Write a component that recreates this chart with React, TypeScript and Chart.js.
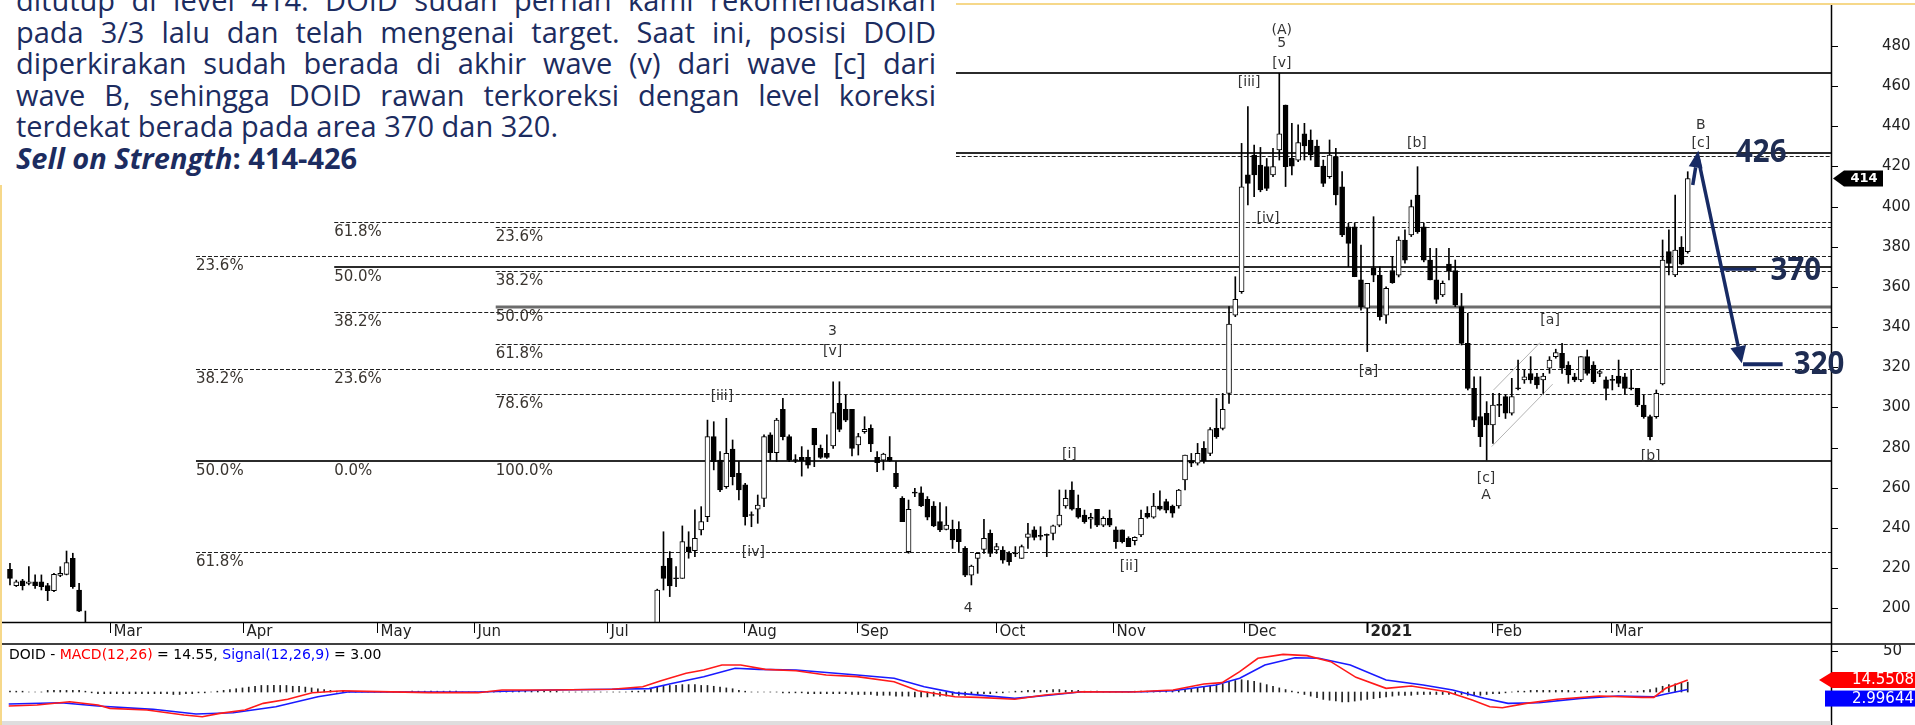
import React, { useEffect, useRef } from 'react';
import { Chart, registerables } from 'chart.js';

Chart.register(...registerables);

// ---------------- DATA ----------------
// trading-day index of each candle; [open, high, low, close]
const febStart = 0;
const febCandles: number[][] = [
  [219.4, 222.4, 211.6, 214.9], [211.3, 214.0, 210.8, 213.2], [213.7, 214.4, 209.1, 211.3],
  [212.4, 220.7, 211.6, 213.2], [213.2, 216.6, 209.9, 211.3], [213.2, 216.6, 209.1, 210.8],
  [211.3, 212.4, 203.8, 208.8], [208.8, 217.4, 208.3, 216.9], [216.4, 220.7, 215.7, 217.4],
  [216.9, 228.5, 216.6, 222.7], [224.9, 227.4, 209.9, 210.8], [209.1, 212.4, 198.3, 198.6],
  [192.0, 198.6, 176.0, 180.0],
];
const mainStart = 103;
const mainCandles: number[][] = [
  [190, 209.5, 188, 209.1], [221.0, 238.1, 209.1, 214.9], [224.9, 228.2, 205.8, 211.1], [215.2, 220.7, 210.7, 214.7],
  [214.9, 241.0, 214.9, 233.2], [230.6, 238.1, 224.9, 228.2], [228.7, 249.0, 225.7, 234.8], [239.0, 250.6, 236.5, 243.1],
  [245.6, 293.7, 243.1, 285.5], [285.5, 292.9, 268.9, 273.0], [273.8, 278.0, 258.0, 258.9], [260.6, 294.6, 259.7, 277.2],
  [279.3, 283.8, 261.4, 265.5], [267.2, 273.0, 253.9, 258.9], [261.4, 262.2, 241.4, 245.6], [246.6, 248.0, 240.6, 246.2],
  [249.3, 256.4, 242.3, 251.4], [254.7, 286.3, 250.6, 285.5], [286.3, 287.4, 273.8, 277.5], [277.5, 294.6, 273.0, 293.7],
  [299.1, 304.5, 283.8, 285.5], [285.5, 286.3, 273.0, 273.8], [274.0, 276.5, 272.5, 273.6], [275.1, 280.5, 265.8, 273.5],
  [275.1, 278.8, 269.7, 271.3], [289.6, 289.6, 270.5, 281.3], [279.6, 281.3, 274.6, 275.1], [277.2, 286.3, 274.6, 275.1],
  [280.8, 312.8, 279.6, 297.4], [302.0, 312.8, 287.9, 289.1], [299.1, 306.2, 292.9, 293.7], [299.1, 299.1, 275.8, 279.6],
  [281.3, 287.1, 276.3, 285.5], [287.9, 295.4, 287.1, 289.1], [289.6, 291.3, 278.0, 281.8], [275.1, 278.0, 268.0, 272.5],
  [273.8, 277.2, 268.9, 276.8], [275.1, 285.5, 273.0, 273.5], [267.2, 273.0, 259.7, 260.6], [254.7, 255.6, 243.1, 243.1],
  [228.2, 253.9, 227.4, 249.3], [257.7, 259.7, 255.6, 257.3], [257.5, 260.5, 250.6, 250.9], [254.2, 255.6, 244.0, 245.3],
  [250.9, 253.1, 240.6, 241.0], [243.1, 252.6, 238.1, 239.0], [239.3, 250.6, 239.0, 241.4], [239.3, 243.9, 229.8, 234.0],
  [239.3, 243.1, 228.2, 233.2], [229.8, 230.7, 215.7, 216.5], [216.5, 221.5, 211.6, 221.0], [224.8, 227.3, 217.4, 227.3],
  [229.3, 244.3, 227.3, 234.8], [237.3, 239.0, 225.7, 227.3], [229.0, 232.3, 227.3, 230.7], [229.0, 230.7, 222.4, 224.0],
  [227.3, 228.2, 221.5, 223.2], [227.5, 230.7, 225.7, 227.1], [224.8, 231.5, 224.8, 230.7], [235.3, 242.3, 229.8, 237.0],
  [239.0, 240.6, 234.0, 235.3], [236.2, 240.6, 234.0, 235.8], [236.7, 237.0, 225.7, 236.3], [237.3, 241.4, 234.0, 241.0],
  [241.4, 258.9, 240.6, 246.4], [250.9, 258.9, 249.8, 254.7], [258.9, 263.0, 248.9, 249.3], [249.8, 256.4, 244.8, 245.3],
  [246.4, 248.9, 242.3, 243.1], [244.3, 247.3, 239.8, 245.3], [249.3, 249.3, 240.6, 241.4], [241.4, 245.6, 240.6, 244.8],
  [244.8, 248.9, 240.6, 241.4], [239.0, 240.6, 229.8, 233.2], [239.0, 239.0, 232.5, 233.2], [234.8, 235.6, 230.7, 230.7],
  [233.6, 235.6, 231.5, 235.3], [236.5, 248.9, 235.6, 244.8], [247.3, 250.6, 244.8, 245.3], [245.3, 257.2, 244.8, 250.9],
  [250.9, 258.5, 248.9, 249.3], [253.1, 254.3, 247.5, 248.9], [250.9, 251.4, 245.3, 247.3], [250.9, 259.2, 249.8, 258.9],
  [263.9, 276.3, 258.9, 276.3], [273.5, 277.1, 270.5, 272.2], [272.2, 282.1, 271.3, 277.1], [279.6, 283.0, 272.2, 273.5],
  [277.1, 290.0, 276.0, 289.0], [289.6, 304.5, 284.6, 285.5], [289.6, 307.0, 288.8, 299.1], [307.0, 350.2, 302.0, 341.5],
  [346.0, 365.1, 345.2, 353.8], [357.6, 431.5, 356.8, 409.9], [415.8, 449.8, 400.8, 411.6], [425.7, 430.7, 405.0, 415.8],
  [420.7, 429.5, 407.4, 408.3], [419.9, 424.0, 408.0, 409.1], [415.8, 429.0, 414.9, 419.9], [428.2, 466.4, 423.2, 436.2],
  [450.6, 450.6, 410.0, 419.9], [424.1, 441.5, 415.8, 420.2], [423.2, 440.7, 422.4, 431.9], [436.2, 441.5, 423.2, 430.2],
  [433.2, 438.2, 423.2, 425.7], [430.2, 433.2, 419.9, 419.9], [420.2, 423.2, 410.0, 411.6], [414.9, 433.2, 414.1, 425.7],
  [424.9, 429.0, 400.8, 405.8], [409.9, 417.4, 385.1, 385.9], [390.0, 391.7, 370.1, 381.7], [390.0, 391.7, 365.1, 365.1],
  [363.5, 380.9, 348.5, 350.2], [349.4, 361.8, 327.8, 361.8], [369.3, 395.0, 362.6, 365.9], [365.9, 370.1, 343.5, 345.2],
  [346.0, 360.1, 341.9, 359.3], [368.1, 375.1, 361.8, 362.2], [365.9, 385.0, 365.0, 383.4], [383.4, 388.4, 371.8, 373.4],
  [385.9, 403.3, 385.1, 400.0], [405.8, 419.9, 386.7, 387.5], [390.0, 391.7, 372.5, 373.4], [373.4, 379.2, 363.5, 363.5],
  [363.5, 379.2, 351.8, 353.8], [356.0, 363.0, 355.2, 361.8], [371.4, 379.2, 363.5, 368.1], [368.1, 373.4, 350.2, 351.0],
  [350.2, 356.8, 331.1, 331.9], [331.9, 346.9, 308.7, 309.5], [309.5, 315.3, 290.4, 293.7], [295.4, 315.3, 280.5, 285.4],
  [297.1, 302.9, 273.8, 291.3], [291.3, 307.0, 282.1, 301.2], [301.4, 307.0, 295.4, 301.0], [305.4, 306.5, 294.5, 297.1],
  [297.1, 314.5, 296.2, 305.4], [309.7, 323.6, 308.7, 309.3], [313.7, 318.6, 312.0, 315.3], [316.9, 325.3, 312.0, 313.7],
  [315.3, 317.0, 309.5, 311.2], [313.7, 317.0, 307.0, 315.6], [319.5, 325.3, 317.0, 323.6], [325.3, 329.0, 324.5, 327.3],
  [326.9, 331.9, 317.0, 319.5], [321.1, 322.8, 312.0, 316.2], [315.3, 317.0, 312.8, 313.7], [313.7, 325.3, 312.8, 325.3],
  [325.3, 328.6, 316.1, 317.0], [321.1, 322.8, 311.9, 312.8], [317.0, 318.6, 315.3, 317.8], [313.7, 315.3, 303.7, 309.5],
  [313.9, 316.0, 308.7, 313.5], [315.6, 323.6, 310.3, 312.0], [315.3, 317.0, 306.5, 309.5], [309.7, 318.6, 308.7, 309.3],
  [309.5, 309.5, 300.4, 301.2], [301.2, 306.2, 294.6, 295.4], [295.4, 296.2, 283.8, 285.4], [295.4, 308.7, 294.6, 307.0],
  [311.7, 383.4, 311.2, 373.4], [377.6, 388.4, 366.0, 371.7], [366.0, 405.8, 365.1, 378.4], [379.7, 385.1, 371.0, 371.4],
  [377.6, 417.4, 376.8, 414.0],
];
const lastClose = 414;

const priceTicks = [200, 220, 240, 260, 280, 300, 320, 340, 360, 380, 400, 420, 440, 460, 480];
const monthTickIdx = [15.9, 37.1, 58.4, 73.8, 95.0, 116.8, 134.8, 156.9, 175.5, 196.4, 216.0, 235.9, 254.8];
const monthLabels = ['Mar', 'Apr', 'May', 'Jun', 'Jul', 'Aug', 'Sep', 'Oct', 'Nov', 'Dec', '2021', 'Feb', 'Mar'];

// Fibonacci / horizontal levels
const fibLevels = [466.7, 426.5, 425.0, 392.5, 390.0, 375.6, 370.1, 368.1, 350.2, 347.4, 331.6, 319.0, 306.7, 273.5, 227.9];
const fibStarts = [150.5, 150.5, 150.5, 51.6, 77.3, 29.6, 51.6, 77.3, 77.3, 51.6, 77.3, 29.6, 77.3, 29.6, 29.6];
const fibKinds = ['solid', 'solid', 'dash', 'dash', 'dash', 'dash', 'solid', 'dash', 'grey', 'dash', 'dash', 'dash', 'dash', 'solid', 'dash'];
const fibLabelText = ['61.8%', '23.6%', '23.6%', '50.0%', '38.2%', '50.0%', '38.2%', '61.8%', '38.2%', '23.6%', '78.6%', '50.0%', '0.0%', '100.0%', '61.8%'];
const fibLabelLevel = [392.5, 390.0, 375.6, 370.1, 368.1, 350.2, 347.4, 331.6, 319.0, 319.0, 306.7, 273.5, 273.5, 273.5, 227.9];
const fibLabelStart = [51.6, 77.3, 29.6, 51.6, 77.3, 77.3, 51.6, 77.3, 29.6, 51.6, 77.3, 29.6, 51.6, 77.3, 29.6];

// Elliott wave labels
const waveText = ['(A)', '5', '[v]', '[iii]', '[iv]', '[b]', 'B', '[c]', '3', '[v]', '[iii]', '[iv]', '4', '[i]', '[ii]', '[a]', '[a]', '[c]', 'A', '[b]'];
const waveIdx = [202.4, 202.4, 202.4, 197.2, 200.2, 223.9, 269.1, 269.1, 130.9, 130.9, 113.3, 118.3, 152.5, 168.6, 178.1, 216.2, 245.1, 234.9, 234.9, 261.1];
const waveVal = [488, 481.5, 471.5, 462, 394.3, 431.7, 440.7, 431.7, 337.7, 327.8, 305.7, 227.7, 200.0, 276.8, 220.7, 318.1, 343.5, 264.7, 256.4, 275.8];

// channel lines [idx, value]
const channelUpper = [[236.1, 308.7], [243.5, 332.3]];
const channelLower = [[235.8, 280.5], [245.5, 311.6]];

// target annotations [idx, value]
const arrowUp = [[267.8, 410.8], [268.7, 427.9]];
const arrowDown = [[268.6, 424.9], [275.6, 322.0]];
const target320Line = [[275.8, 321.5], [282.1, 321.5]];
const target370Line = [[272.4, 368.8], [277.9, 368.8]];
const targetText = ['426', '370', '320'];
const targetIdx = [278.7, 284.2, 287.9];
const targetVal = [427.2, 368.4, 321.6];

// MACD (12,26) and signal (9): [idx, value]
const macdLine = [[-0.2, -17.1], [4.3, -15.9], [9.5, -11.8], [14.0, -15.9], [15.9, -19.9], [21.8, -22], [27.7, -28], [30.6, -30.1], [33.4, -26], [37.4, -22], [40.3, -13.8], [44.2, -8.9], [48.1, -0.8], [53.0, 1.6], [56.8, 0.8], [66.7, -0.8], [74.5, -0.8], [78.3, 2.4], [86.1, 2.4], [95.8, 3.3], [100.7, 6.5], [103.6, 13.8], [107.6, 22.8], [110.4, 26.8], [113.3, 32.9], [116.3, 32.9], [120.2, 27.6], [125.1, 26], [129.9, 20.7], [134.8, 18.7], [140.7, 12.6], [144.5, 1.6], [150.4, -5.7], [154.1, -6.5], [159.9, -8.9], [164.7, -3.7], [170.6, 0.4], [178.4, 0], [185.1, 2.4], [190.0, 9.8], [192.9, 11.4], [195.7, 24.8], [198.6, 41.1], [202.6, 45.9], [206.4, 44.3], [210.2, 37], [214.2, 17.9], [219.0, 4.5], [223.0, 7.3], [228.7, 0.4], [232.7, -9.8], [235.5, -17.9], [237.5, -19.1], [241.3, -13.8], [246.2, -8.9], [252.9, -4.9], [259.7, -6.5], [261.6, -6.5], [263.5, 4.5], [267, 14.55]];
const signalLine = [[-0.2, -14.6], [8.1, -13], [14.0, -17.1], [22.8, -21.1], [29.6, -26.8], [35.5, -25.2], [42.3, -17.9], [49.0, -5.7], [54.0, 0.4], [66.7, 0], [74.5, 0], [86.1, 2.4], [95.8, 3.3], [101.7, 4.1], [105.5, 10.6], [110.4, 18.7], [115.4, 28.9], [119.2, 27.6], [125.1, 26.8], [134.8, 20.7], [140.7, 16.7], [145.5, 6.5], [150.4, -1.0], [159.9, -7.7], [165.7, -3.7], [170.6, 0.4], [180.3, 0.4], [185.1, 1.6], [191.9, 8.5], [195.7, 16.7], [199.7, 32.9], [204.5, 41.8], [208.3, 41.1], [213.3, 32.9], [219.0, 14.6], [224.9, 8.5], [229.6, 2.4], [234.6, -7.7], [238.4, -13.8], [243.3, -13], [250.0, -7.7], [255.9, -4.9], [261.6, -5.7], [263.5, -2.4], [266.6, 2.4], [267, 3.0]];
const histStart = 0;
const histValues = [
  1, 1, 1, 0, 0, 0, 2, 2, 2, 2,
  2, 2, 1, -1, -2, -2, -2, -2, -2, -2,
  -2, -2, -2, -2, -2, -2, -3, -3, -2, -2,
  -1, -1, 0, 1, 2, 3, 4, 5, 6, 7,
  8, 8, 8, 8, 8, 7, 7, 6, 5, 4,
  3, 2, 1, 1, 1, 0, 0, 0, 0, 0,
  0, 0, 0, 0, 1, 1, 1, 1, 1, 1,
  1, 1, 0, 0, 0, 0, 0, 0, 1, 1,
  1, 1, 1, 1, 1, 1, 1, 1, 0, 0,
  0, 0, 0, 0, 0, 0, 0, 0, 0, 1,
  1, 2, 4, 6, 7, 8, 8, 9, 9, 9,
  8, 8, 7, 6, 5, 4, 2, 1, 0, 0,
  0, 0, 0, -1, -1, -1, -1, -2, -2, -2,
  -2, -2, -2, -2, -3, -3, -3, -3, -4, -4,
  -4, -5, -5, -5, -6, -6, -6, -5, -5, -5,
  -4, -4, -4, -3, -3, -2, -2, -1, -1, 0,
  1, 1, 2, 2, 2, 2, 3, 3, 2, 2,
  2, 1, 1, 1, 0, 0, 0, 0, 0, 1,
  1, 1, 1, 1, 1, 2, 2, 3, 4, 5,
  6, 7, 8, 10, 12, 14, 15, 14, 13, 11,
  9, 7, 5, 3, 1, -1, -3, -5, -7, -9,
  -10, -11, -12, -12, -11, -10, -9, -8, -7, -6,
  -5, -4, -4, -4, -3, -3, -3, -3, -3, -3,
  -3, -3, -4, -4, -4, -3, -2, -2, -1, 0,
  1, 1, 2, 2, 2, 2, 2, 2, 2, 1,
  1, 1, 1, 1, 1, 1, 1, 1, 0, 1,
  2, 3, 5, 7, 9, 10, 11, 12,
];
const macdLast = 14.5508;
const signalLast = 2.99644;

const paraLines = [
  'ditutup di level 414. DOID sudah pernah kami rekomendasikan',
  'pada 3/3 lalu dan telah mengenai target. Saat ini, posisi DOID',
  'diperkirakan sudah berada di akhir wave (v) dari wave [c] dari',
  'wave B, sehingga DOID rawan terkoreksi dengan level koreksi',
  'terdekat berada pada area 370 dan 320.',
];

// ---------------- STYLE / LAYOUT ----------------
const FONT = '"DejaVu Sans", Verdana, sans-serif';
const NAVY = '#1c2c60';
const ARROW = '#172a64';
const YELLOW = '#f6d88a';
const X_MIN = -1.27;
const X_MAX = 289.8;

function drawArrow(ctx: any, x1: number, y1: number, x2: number, y2: number, lw: number, headLen: number, headHalf: number, color: string) {
  const ang = Math.atan2(y2 - y1, x2 - x1);
  const bx = x2 - headLen * Math.cos(ang);
  const by = y2 - headLen * Math.sin(ang);
  ctx.strokeStyle = color;
  ctx.lineWidth = lw;
  ctx.beginPath();
  ctx.moveTo(x1, y1);
  ctx.lineTo(bx, by);
  ctx.stroke();
  ctx.fillStyle = color;
  ctx.beginPath();
  ctx.moveTo(x2, y2);
  ctx.lineTo(bx + headHalf * Math.sin(ang), by - headHalf * Math.cos(ang));
  ctx.lineTo(bx - headHalf * Math.sin(ang), by + headHalf * Math.cos(ang));
  ctx.closePath();
  ctx.fill();
}

const pricePlugin = {
  id: 'priceOverlay',
  beforeDatasetsDraw(chart: any) {
    const { ctx, chartArea: a, scales } = chart;
    const X = (v: number) => scales.x.getPixelForValue(v);
    const Y = (v: number) => scales.y.getPixelForValue(v);
    ctx.save();
    ctx.beginPath();
    ctx.rect(a.left, a.top, a.right - a.left, a.bottom - a.top);
    ctx.clip();
    fibLevels.forEach((v, k) => {
      const kind = fibKinds[k];
      const py = Math.round(Y(v)) + (kind === 'dash' ? 0.5 : 0);
      const px = X(fibStarts[k]);
      ctx.beginPath();
      if (kind === 'dash') {
        ctx.setLineDash([4, 2]);
        ctx.lineWidth = 1;
        ctx.strokeStyle = '#1e1e1e';
      } else if (kind === 'grey') {
        ctx.setLineDash([]);
        ctx.lineWidth = 3;
        ctx.strokeStyle = '#6c6c6c';
      } else {
        ctx.setLineDash([]);
        ctx.lineWidth = 2;
        ctx.strokeStyle = '#2b2b2b';
      }
      ctx.moveTo(px, py);
      ctx.lineTo(a.right, py);
      ctx.stroke();
    });
    ctx.setLineDash([]);
    ctx.strokeStyle = '#b3b3b3';
    ctx.lineWidth = 1;
    [channelUpper, channelLower].forEach((ln) => {
      ctx.beginPath();
      ctx.moveTo(X(ln[0][0]), Y(ln[0][1]));
      ctx.lineTo(X(ln[1][0]), Y(ln[1][1]));
      ctx.stroke();
    });
    ctx.restore();
  },
  afterDatasetsDraw(chart: any) {
    const { ctx, chartArea: a, scales, width, height } = chart;
    const X = (v: number) => scales.x.getPixelForValue(v);
    const Y = (v: number) => scales.y.getPixelForValue(v);
    ctx.save();
    ctx.textBaseline = 'middle';
    // fib labels
    ctx.font = `15px ${FONT}`;
    ctx.fillStyle = '#3a3530';
    ctx.textAlign = 'left';
    fibLabelText.forEach((t, k) => ctx.fillText(t, X(fibLabelStart[k]), Y(fibLabelLevel[k]) + 10));
    // wave labels
    ctx.font = `14px ${FONT}`;
    ctx.fillStyle = '#333333';
    ctx.textAlign = 'center';
    waveText.forEach((t, k) => ctx.fillText(t, X(waveIdx[k]), Y(waveVal[k])));

    // axes
    ctx.strokeStyle = '#000';
    ctx.lineWidth = 1.5;
    ctx.beginPath();
    ctx.moveTo(a.right + 0.5, a.top);
    ctx.lineTo(a.right + 0.5, height);
    ctx.stroke();
    ctx.beginPath();
    ctx.moveTo(0, a.bottom + 0.5);
    ctx.lineTo(a.right, a.bottom + 0.5);
    ctx.stroke();
    ctx.beginPath();
    ctx.moveTo(0, height - 1);
    ctx.lineTo(width, height - 1);
    ctx.stroke();

    // price ticks
    ctx.lineWidth = 1;
    ctx.font = `15px ${FONT}`;
    ctx.fillStyle = '#222';
    ctx.textAlign = 'left';
    priceTicks.forEach((v) => {
      const py = Math.round(Y(v)) + 0.5;
      ctx.beginPath();
      ctx.moveTo(a.right, py);
      ctx.lineTo(a.right + 7, py);
      ctx.stroke();
      ctx.fillText(String(v), 1882, py);
    });

    // month ticks
    monthTickIdx.forEach((m, k) => {
      const lbl = monthLabels[k];
      const px = Math.round(X(m)) + 0.5;
      ctx.lineWidth = lbl === '2021' ? 2 : 1;
      ctx.beginPath();
      ctx.moveTo(px, a.bottom);
      ctx.lineTo(px, a.bottom + 11);
      ctx.stroke();
      ctx.font = (lbl === '2021' ? 'bold ' : '') + `15px ${FONT}`;
      ctx.fillText(lbl, px + 3, a.bottom + 10);
    });

    // last price tag
    const ty = Y(lastClose);
    ctx.fillStyle = '#000';
    ctx.beginPath();
    ctx.moveTo(a.right + 2, ty);
    ctx.lineTo(a.right + 13, ty - 8);
    ctx.lineTo(a.right + 52, ty - 8);
    ctx.lineTo(a.right + 52, ty + 8);
    ctx.lineTo(a.right + 13, ty + 8);
    ctx.closePath();
    ctx.fill();
    ctx.fillStyle = '#fff';
    ctx.font = `bold 13px ${FONT}`;
    ctx.textAlign = 'center';
    ctx.fillText(String(lastClose), a.right + 33, ty + 0.5);

    // target arrows
    ctx.lineCap = 'butt';
    drawArrow(ctx, X(arrowUp[0][0]), Y(arrowUp[0][1]), X(arrowUp[1][0]), Y(arrowUp[1][1]), 3.5, 17, 7, ARROW);
    drawArrow(ctx, X(arrowDown[0][0]), Y(arrowDown[0][1]), X(arrowDown[1][0]), Y(arrowDown[1][1]), 3.5, 17, 8, ARROW);
    ctx.strokeStyle = ARROW;
    ctx.lineWidth = 4;
    ctx.beginPath();
    ctx.moveTo(X(target320Line[0][0]), Y(target320Line[0][1]));
    ctx.lineTo(X(target320Line[1][0]), Y(target320Line[1][1]));
    ctx.stroke();
    ctx.lineWidth = 3;
    ctx.beginPath();
    ctx.moveTo(X(target370Line[0][0]), Y(target370Line[0][1]));
    ctx.lineTo(X(target370Line[1][0]), Y(target370Line[1][1]));
    ctx.stroke();
    ctx.fillStyle = '#1e2c52';
    ctx.font = 'bold 32px "Open Sans", sans-serif';
    ctx.textAlign = 'center';
    targetText.forEach((t, k) => {
      ctx.save();
      ctx.translate(X(targetIdx[k]), Y(targetVal[k]));
      ctx.scale(0.92, 1);
      ctx.fillText(t, 0, 1);
      ctx.restore();
    });

    // frame border
    ctx.strokeStyle = YELLOW;
    ctx.lineWidth = 2;
    ctx.beginPath();
    ctx.moveTo(0, 4);
    ctx.lineTo(width, 4);
    ctx.stroke();
    ctx.beginPath();
    ctx.moveTo(1, 0);
    ctx.lineTo(1, height);
    ctx.stroke();
    ctx.restore();
  },
};

const macdPlugin = {
  id: 'macdOverlay',
  afterDatasetsDraw(chart: any) {
    const { ctx, chartArea: a, scales, width, height } = chart;
    const Y = (v: number) => scales.y.getPixelForValue(v);
    ctx.save();
    ctx.textBaseline = 'middle';
    // axis
    ctx.strokeStyle = '#000';
    ctx.lineWidth = 1.5;
    ctx.beginPath();
    ctx.moveTo(a.right + 0.5, 0);
    ctx.lineTo(a.right + 0.5, height);
    ctx.stroke();
    ctx.lineWidth = 1;
    [50, 0].forEach((v) => {
      const py = Math.round(Y(v)) + 0.5;
      ctx.beginPath();
      ctx.moveTo(a.right, py);
      ctx.lineTo(a.right + 7, py);
      ctx.stroke();
    });
    ctx.font = `15px ${FONT}`;
    ctx.fillStyle = '#222';
    ctx.textAlign = 'left';
    ctx.fillText('50', 1883, Y(50));

    // title
    const parts: [string, string][] = [
      ['DOID - ', '#000'],
      ['MACD(12,26)', '#ff0000'],
      [` = ${macdLast.toFixed(2)}, `, '#000'],
      ['Signal(12,26,9)', '#0000ff'],
      [` = ${signalLast.toFixed(2)}`, '#000'],
    ];
    ctx.font = `14px ${FONT}`;
    let tx = 9;
    parts.forEach(([t, c]) => {
      ctx.fillStyle = c;
      ctx.fillText(t, tx, 10);
      tx += ctx.measureText(t).width;
    });

    // value tags
    const ry = Y(macdLast);
    ctx.fillStyle = '#ff0000';
    ctx.beginPath();
    ctx.moveTo(a.right - 12, ry);
    ctx.lineTo(a.right + 1, ry - 8);
    ctx.lineTo(width, ry - 8);
    ctx.lineTo(width, ry + 8);
    ctx.lineTo(a.right + 1, ry + 8);
    ctx.closePath();
    ctx.fill();
    const by = Y(signalLast) + 9;
    ctx.fillStyle = '#0000ff';
    ctx.fillRect(a.right - 6, by - 8, width - a.right + 6, 16);
    ctx.fillStyle = '#fff';
    ctx.font = `15px ${FONT}`;
    ctx.textAlign = 'right';
    ctx.fillText(macdLast.toFixed(4), width - 1, ry + 0.5);
    ctx.fillText(signalLast.toFixed(5), width - 1, by + 0.5);

    // scrollbar strip
    ctx.fillStyle = '#dedede';
    ctx.fillRect(0, height - 4, a.right, 4);
    // frame border
    ctx.strokeStyle = YELLOW;
    ctx.lineWidth = 2;
    ctx.beginPath();
    ctx.moveTo(1, 0);
    ctx.lineTo(1, height);
    ctx.stroke();
    ctx.restore();
  },
};

export default function App() {
  const priceRef = useRef<HTMLCanvasElement>(null);
  const macdRef = useRef<HTMLCanvasElement>(null);

  useEffect(() => {
    const candles = [
      ...febCandles.map((v, k) => ({ i: febStart + k, o: v[0], h: v[1], l: v[2], c: v[3] })),
      ...mainCandles.map((v, k) => ({ i: mainStart + k, o: v[0], h: v[1], l: v[2], c: v[3] })),
    ];
    const priceChart = new Chart(priceRef.current as HTMLCanvasElement, {
      type: 'bar',
      data: {
        datasets: [
          {
            type: 'bar',
            data: candles.map((c) => ({ x: c.i, y: [c.o, c.c] })) as any,
            backgroundColor: candles.map((c) => (c.c >= c.o ? '#ffffff' : '#000000')),
            borderColor: '#000',
            borderWidth: 1,
            borderSkipped: false,
            barThickness: 5,
            minBarLength: 1,
            grouped: false,
            order: 0,
          } as any,
          {
            type: 'bar',
            data: candles.map((c) => ({ x: c.i, y: [c.l, c.h] })) as any,
            backgroundColor: '#000',
            borderWidth: 0,
            barThickness: 1,
            grouped: false,
            order: 1,
          } as any,
        ],
      },
      options: {
        responsive: false,
        animation: false,
        events: [],
        layout: { padding: { left: 2, right: 84, top: 5, bottom: 23 } },
        plugins: { legend: { display: false }, tooltip: { enabled: false } },
        scales: {
          x: { type: 'linear', min: X_MIN, max: X_MAX, display: false, offset: false } as any,
          y: { min: 193.15, max: 500.42, display: false },
        },
      },
      plugins: [pricePlugin],
    });

    const macdChart = new Chart(macdRef.current as HTMLCanvasElement, {
      type: 'bar',
      data: {
        datasets: [
          {
            type: 'line',
            data: macdLine.map((p) => ({ x: p[0], y: p[1] })),
            borderColor: '#ff1a1a',
            borderWidth: 1.6,
            pointRadius: 0,
            tension: 0,
            order: 0,
          } as any,
          {
            type: 'line',
            data: signalLine.map((p) => ({ x: p[0], y: p[1] })),
            borderColor: '#1a1aff',
            borderWidth: 1.6,
            pointRadius: 0,
            tension: 0,
            order: 1,
          } as any,
          {
            type: 'bar',
            data: histValues.map((v, k) => ({ x: histStart + k, y: v })),
            backgroundColor: '#222',
            barThickness: 1,
            grouped: false,
            order: 2,
          } as any,
        ],
      },
      options: {
        responsive: false,
        animation: false,
        events: [],
        layout: { padding: { left: 2, right: 84, top: 0, bottom: 0 } },
        plugins: { legend: { display: false }, tooltip: { enabled: false } },
        scales: {
          x: { type: 'linear', min: X_MIN, max: X_MAX, display: false, offset: false } as any,
          y: { min: -40.2, max: 57.3, display: false },
        },
      },
      plugins: [macdPlugin],
    });

    return () => {
      priceChart.destroy();
      macdChart.destroy();
    };
  }, []);

  const lineStyle = (k: number, justify: boolean): React.CSSProperties => ({
    position: 'absolute',
    left: 16,
    top: -15.75 + 31.5 * k,
    width: 920,
    height: 31.5,
    lineHeight: '31.5px',
    fontFamily: '"Open Sans", sans-serif',
    fontSize: 29,
    color: NAVY,
    textAlign: justify ? 'justify' : 'left',
    textAlignLast: justify ? 'justify' : 'left',
    whiteSpace: 'nowrap',
  } as React.CSSProperties);

  return (
    <div style={{ position: 'absolute', left: 0, top: 0, width: 1915, height: 725, background: '#fff', overflow: 'hidden' }}>
      <canvas ref={priceRef} width={1915} height={645} style={{ position: 'absolute', left: 0, top: 0, width: 1915, height: 645 }} />
      <canvas ref={macdRef} width={1915} height={80} style={{ position: 'absolute', left: 0, top: 645, width: 1915, height: 80 }} />
      <div style={{ position: 'absolute', left: 0, top: 0, width: 956, height: 185, background: '#fff', overflow: 'hidden' }}>
        {paraLines.map((t, k) => (
          <div key={k} style={lineStyle(k, k < 4)}>{t}</div>
        ))}
        <div style={{ ...lineStyle(5, false), fontWeight: 700 }}>
          <i>Sell on Strength</i>: 414-426
        </div>
      </div>
    </div>
  );
}
